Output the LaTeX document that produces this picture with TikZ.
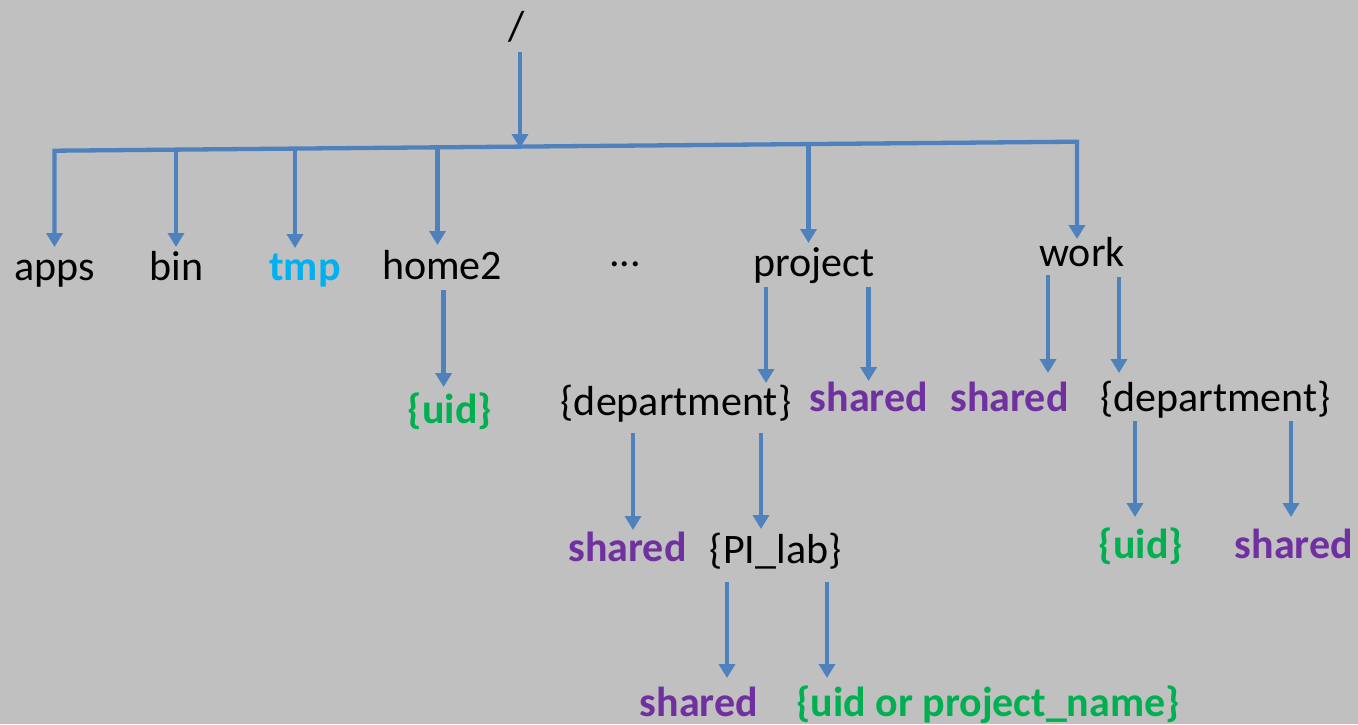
\documentclass[tikz,border=0pt]{standalone}
\usepackage{fontspec}
\setmainfont{Carlito}
\usetikzlibrary{arrows.meta}
\definecolor{bg}{HTML}{C0C0C0}
\definecolor{linec}{HTML}{4F81BD}
\definecolor{grn}{HTML}{00B050}
\definecolor{prp}{HTML}{7030A0}
\definecolor{cyn}{HTML}{00B0F0}
\begin{document}
\begin{tikzpicture}[x=1pt,y=-1pt,
  lbl/.style={anchor=base, inner sep=0pt, font=\fontsize{42}{50}\selectfont},
  blk/.style={lbl, text=black},
  grnl/.style={lbl, text=grn, font=\fontsize{42}{50}\selectfont\bfseries},
  prpl/.style={lbl, text=prp, font=\fontsize{42}{50}\selectfont\bfseries},
  cynl/.style={lbl, text=cyn, font=\fontsize{42}{50}\selectfont\bfseries},
  tipd/.tip={Triangle[width=16pt,length=14pt]},
  conn/.style={draw=linec, line width=4.3pt, -tipd},
  bus/.style={draw=linec, line width=4.3pt, line join=miter, tipd-tipd}]
\useasboundingbox[fill=bg] (0,0) rectangle (1358,724);

% labels
\node[blk] (root) at (517,40) {/};
\node[blk] (apps) at (55,280) {apps};
\node[blk] (bin) at (176.5,280) {bin};
\node[cynl] (tmp) at (305,280) {tmp};
\node[blk] (home) at (442,279) {home2};
\node[blk] (dots) at (625,266) {...};
\node[blk] (proj) at (814,276) {project};
\node[blk] (work) at (1082,266) {work};
\node[grnl] (huid) at (450,423) {\{uid\}};
\node[blk] (pdept) at (676,415) {\{department\}};
\node[prpl] (pshared) at (869,411) {shared};
\node[prpl] (wshared) at (1009.5,411) {shared};
\node[blk] (wdept) at (1215.5,411) {\{department\}};
\node[prpl] (dshared) at (627.5,561) {shared};
\node[blk] (pilab) at (775.7,563) {\{PI\_lab\}};
\node[grnl] (wuid) at (1141,558) {\{uid\}};
\node[prpl] (wdshared) at (1294,558) {shared};
\node[prpl] (lshared) at (699,716) {shared};
\node[grnl] (luid) at (988,716) {\{uid or project\_name\}};

% connector coordinates
\coordinate (r0) at (520,52);   \coordinate (r1) at (520,148);
\coordinate (bL) at (54.5,150.7); \coordinate (bR) at (1077,141.7);
\coordinate (a1) at (54.5,247);  \coordinate (w1) at (1077,239);
\coordinate (bi0) at (176,149.7); \coordinate (bi1) at (176,247);
\coordinate (t0) at (295,148.7);  \coordinate (t1) at (295,248);
\coordinate (h0) at (437.5,147.5); \coordinate (h1) at (437.5,245);
\coordinate (p0) at (808.5,144.3); \coordinate (p1) at (808.5,243);

\coordinate (hu0) at (443.6,290); \coordinate (hu1) at (443.6,387);
\coordinate (pd0) at (766,287); \coordinate (pd1) at (766,383);
\coordinate (ps0) at (868.6,287); \coordinate (ps1) at (868.6,381);
\coordinate (ws0) at (1048,275); \coordinate (ws1) at (1048,373);
\coordinate (wd0) at (1119,277); \coordinate (wd1) at (1119,373);
\coordinate (ds0) at (633,433); \coordinate (ds1) at (633,530);
\coordinate (dp0) at (761,433); \coordinate (dp1) at (761,529);
\coordinate (ls0) at (727,582); \coordinate (ls1) at (727,678);
\coordinate (lu0) at (827,582); \coordinate (lu1) at (827,678);
\coordinate (wu0) at (1135,421); \coordinate (wu1) at (1135,517);
\coordinate (wx0) at (1291,421); \coordinate (wx1) at (1291,517);

% connectors
\draw[conn] (r0) -- (r1);
\draw[bus] (a1) -- (bL) -- (bR) -- (w1);
\draw[conn] (bi0) -- (bi1);
\draw[conn] (t0) -- (t1);
\draw[conn] (h0) -- (h1);
\draw[conn] (p0) -- (p1);
\draw[conn] (hu0) -- (hu1);
\draw[conn] (pd0) -- (pd1);
\draw[conn] (ps0) -- (ps1);
\draw[conn] (ws0) -- (ws1);
\draw[conn] (wd0) -- (wd1);
\draw[conn] (ds0) -- (ds1);
\draw[conn] (dp0) -- (dp1);
\draw[conn] (ls0) -- (ls1);
\draw[conn] (lu0) -- (lu1);
\draw[conn] (wu0) -- (wu1);
\draw[conn] (wx0) -- (wx1);
\end{tikzpicture}
\end{document}
